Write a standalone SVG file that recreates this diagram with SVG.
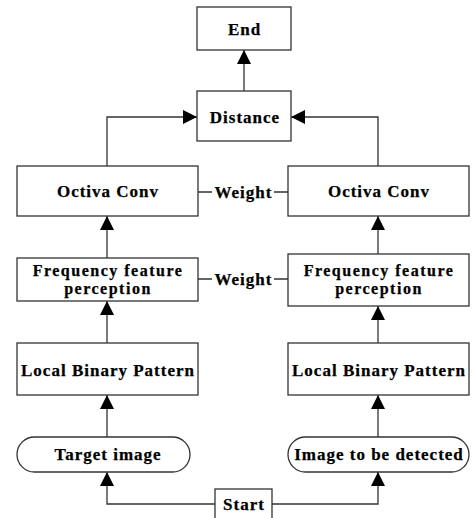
<svg xmlns="http://www.w3.org/2000/svg" width="472" height="518" viewBox="0 0 472 518">
<style>
.box{fill:#fff;stroke:#333;stroke-width:1.3}
.t{font-family:'Liberation Serif',serif;font-weight:700;font-size:17px;letter-spacing:1px;fill:#000;stroke:#000;stroke-width:0.25;text-anchor:middle}
.s{font-size:16px;letter-spacing:1.5px}
.c{fill:none;stroke:#333;stroke-width:1.3}
</style>
<defs>
<marker id="ah" viewBox="0 0 14 14" markerWidth="14" markerHeight="14" markerUnits="userSpaceOnUse" refX="14" refY="7" orient="auto">
<path d="M0,0 L14,7 L0,14 z" fill="#000"/>
</marker>
</defs>
<rect width="472" height="518" fill="#fff"/>
<g id="connectors">
<path class="c" d="M244,91 V50" marker-end="url(#ah)"/>
<path class="c" d="M107,166 V117 H197" marker-end="url(#ah)"/>
<path class="c" d="M378,166 V117 H291" marker-end="url(#ah)"/>
<path class="c" d="M107,258 V216" marker-end="url(#ah)"/>
<path class="c" d="M378,254 V216" marker-end="url(#ah)"/>
<path class="c" d="M107,343 V301" marker-end="url(#ah)"/>
<path class="c" d="M378,343 V306" marker-end="url(#ah)"/>
<path class="c" d="M107,437 V395" marker-end="url(#ah)"/>
<path class="c" d="M378,437 V395" marker-end="url(#ah)"/>
<path class="c" d="M215,504 H107 V472" marker-end="url(#ah)"/>
<path class="c" d="M272,504 H378 V472" marker-end="url(#ah)"/>
<path class="c" d="M198,192 H212 M274,192 H288"/>
<path class="c" d="M198,279 H212 M274,279 H288"/>
<text class="t" x="243.5" y="197.5">Weight</text>
<text class="t" x="243.5" y="284.5">Weight</text>
</g>
<g id="end"><rect class="box" x="197" y="7" width="94" height="43"/><text class="t" x="244.5" y="34.5">End</text></g>
<g id="distance"><rect class="box" x="197" y="91" width="94" height="50"/><text class="t" x="245" y="122.5">Distance</text></g>
<g id="octiva-left"><rect class="box" x="17" y="166" width="181" height="50"/><text class="t" x="108" y="196.5">Octiva Conv</text></g>
<g id="octiva-right"><rect class="box" x="288" y="166" width="181" height="50"/><text class="t" x="379" y="196.5">Octiva Conv</text></g>
<g id="freq-left"><rect class="box" x="17" y="258" width="181" height="43"/><text class="t s" x="108" y="275.5">Frequency feature</text><text class="t s" x="108" y="294">perception</text></g>
<g id="freq-right"><rect class="box" x="288" y="254" width="181" height="52"/><text class="t s" x="379" y="275.5">Frequency feature</text><text class="t s" x="379" y="294">perception</text></g>
<g id="lbp-left"><rect class="box" x="17" y="343" width="181" height="52"/><text class="t" x="108" y="375.5">Local Binary Pattern</text></g>
<g id="lbp-right"><rect class="box" x="288" y="343" width="181" height="52"/><text class="t" x="379" y="375.5">Local Binary Pattern</text></g>
<g id="target-image"><rect class="box" x="17" y="437" width="173" height="35" rx="17.5" ry="17.5"/><text class="t" x="108" y="459.5">Target image</text></g>
<g id="image-detected"><rect class="box" x="288" y="437" width="181" height="35" rx="17.5" ry="17.5"/><text class="t" x="379" y="459.5">Image to be detected</text></g>
<g id="start"><rect class="box" x="215" y="489" width="57" height="40"/><text class="t" x="244" y="509.5">Start</text></g>
</svg>
